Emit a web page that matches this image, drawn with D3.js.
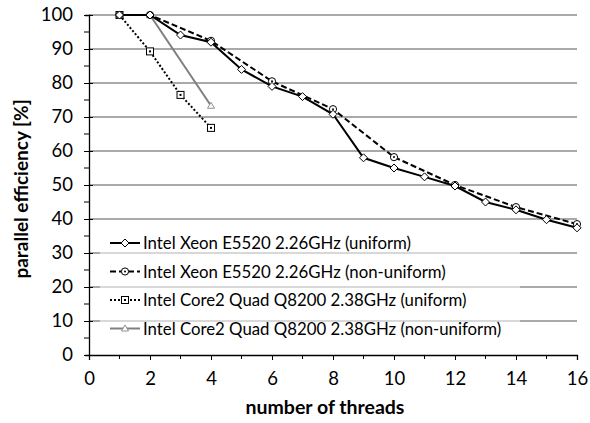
<head>
  <meta charset="utf-8">
  <script src="https://d3js.org/d3.v7.min.js"></script>
  <style>
    body { margin: 0; background: #fff; }
    text { font-family: Lato, "Open Sans", sans-serif; fill: #000; }
  </style>
</head>
<body>
<script>
// data
var xeonUniX = [1,2,3,4,5,6,7,8,9,10,11,12,13,14,15,16];
var xeonUniY = [100,100,94.1,92,84,79,76,70.8,58,55,52.4,49.7,45,42.7,39.8,37.4];
var xeonNonX = [1,2,4,6,8,10,12,14,16];
var xeonNonY = [100,100,92.4,80.5,72.3,58.2,50,43.5,38.5];
var coreUniX = [1,2,3,4];
var coreUniY = [100,89.3,76.5,66.8];
var coreNonX = [1,2,4];
var coreNonY = [100,100,73.3];
var names = ["Intel Xeon E5520 2.26GHz (uniform)",
  "Intel Xeon E5520 2.26GHz (non-uniform)",
  "Intel Core2 Quad Q8200 2.38GHz (uniform)",
  "Intel Core2 Quad Q8200 2.38GHz (non-uniform)"];
var xTicks = [0,2,4,6,8,10,12,14,16];
var yTicks = [0,10,20,30,40,50,60,70,80,90,100];

var width = 590, height = 423;
var mLeft = 89, mRight = 577, mTop = 15, mBottom = 355;

var x = d3.scaleLinear().domain([0,16]).range([mLeft, mRight]);
var y = d3.scaleLinear().domain([0,100]).range([mBottom, mTop]);

var svg = d3.select("body").append("svg")
  .attr("width", width).attr("height", height);

// grid
svg.append("g").selectAll("line")
  .data(yTicks.filter(function(d){ return d > 0; }))
  .enter().append("line")
  .attr("x1", mLeft).attr("x2", mRight)
  .attr("y1", function(d){ return y(d); }).attr("y2", function(d){ return y(d); })
  .attr("stroke", "#8c8c8c").attr("stroke-width", 1.3);

var series = [
  {x: xeonUniX, y: xeonUniY, color: "#000", dash: null, marker: "diamond"},
  {x: xeonNonX, y: xeonNonY, color: "#000", dash: "6,3", marker: "circle"},
  {x: coreUniX, y: coreUniY, color: "#000", dash: "2,2", marker: "square"},
  {x: coreNonX, y: coreNonY, color: "#808080", dash: null, marker: "triangle"}
];

var line = d3.line()
  .x(function(d){ return x(d[0]); })
  .y(function(d){ return y(d[1]); });

function drawMarker(g, type, cx, cy, color) {
  if (type == "diamond") {
    g.append("path").attr("d", "M"+cx+","+(cy-4)+"L"+(cx+4)+","+cy+"L"+cx+","+(cy+4)+"L"+(cx-4)+","+cy+"Z")
      .attr("fill", "#fff").attr("stroke", color).attr("stroke-width", 1);
  } else if (type == "circle") {
    g.append("circle").attr("cx", cx).attr("cy", cy).attr("r", 3.6)
      .attr("fill", "#fff").attr("stroke", color).attr("stroke-width", 1);
    g.append("circle").attr("cx", cx).attr("cy", cy).attr("r", 1).attr("fill", color);
  } else if (type == "square") {
    g.append("rect").attr("x", cx-3.5).attr("y", cy-3.5).attr("width", 7).attr("height", 7)
      .attr("fill", "#fff").attr("stroke", color).attr("stroke-width", 1);
    g.append("rect").attr("x", cx-1).attr("y", cy-1).attr("width", 2).attr("height", 2).attr("fill", color);
  } else {
    g.append("path").attr("d", "M"+cx+","+(cy-3.5)+"L"+(cx+3.5)+","+(cy+2.5)+"L"+(cx-3.5)+","+(cy+2.5)+"Z")
      .attr("fill", "#fff").attr("stroke", color).attr("stroke-width", 1);
  }
}

var plot = svg.append("g");
series.slice().reverse().forEach(function(s) {
  var pts = s.x.map(function(v, i){ return [v, s.y[i]]; });
  plot.append("path").datum(pts)
    .attr("d", line).attr("fill", "none")
    .attr("stroke", s.color).attr("stroke-width", 2)
    .attr("stroke-dasharray", s.dash);
  var mg = plot.append("g");
  pts.forEach(function(p){ drawMarker(mg, s.marker, x(p[0]), y(p[1]), s.color == "#000" ? "#000" : "#909090"); });
});

// legend
var lg = svg.append("g");
lg.append("rect").attr("x", 100).attr("y", 229).attr("width", 420).attr("height", 114)
  .attr("fill", "#fff").attr("opacity", 0.55);
series.forEach(function(s, i) {
  var ly = 243 + i * 28.5;
  lg.append("line").attr("x1", 110).attr("x2", 140).attr("y1", ly).attr("y2", ly)
    .attr("stroke", s.color).attr("stroke-width", 2).attr("stroke-dasharray", s.dash);
  drawMarker(lg, s.marker, 125, ly, s.color == "#000" ? "#000" : "#909090");
  lg.append("text").attr("x", 143).attr("y", ly + 6).attr("font-size", 16.8).text(names[i]);
});

// axes
var yAxis = svg.append("g").attr("transform", "translate(" + mLeft + ",0)")
  .call(d3.axisLeft(y).tickValues(yTicks).tickSize(4).tickPadding(12));
yAxis.select(".domain").attr("stroke", "#000").attr("stroke-width", 1.3);
yAxis.selectAll(".tick line").attr("x2", -5).attr("x1", 4);
yAxis.selectAll("text").attr("font-size", 18.5).attr("font-family", "Lato, 'Open Sans', sans-serif");
yAxis.append("g").selectAll("line").data(d3.range(5, 100, 10)).enter().append("line")
  .attr("x1", -5).attr("x2", 0)
  .attr("y1", function(d){ return y(d); }).attr("y2", function(d){ return y(d); })
  .attr("stroke", "#000");

var xAxis = svg.append("g").attr("transform", "translate(0," + mBottom + ")")
  .call(d3.axisBottom(x).tickValues(xTicks).tickSize(5).tickPadding(12));
xAxis.select(".domain").attr("stroke", "#000").attr("stroke-width", 1.3);
xAxis.selectAll("text").attr("font-size", 18.5).attr("font-family", "Lato, 'Open Sans', sans-serif");
xAxis.append("g").selectAll("line").data(d3.range(1, 16, 2)).enter().append("line")
  .attr("x1", function(d){ return x(d); }).attr("x2", function(d){ return x(d); })
  .attr("y1", 0).attr("y2", 4).attr("stroke", "#000");

svg.append("text").attr("x", 325).attr("y", 414)
  .attr("text-anchor", "middle").attr("font-size", 19.5).attr("font-weight", "bold")
  .text("number of threads");
svg.append("text").attr("transform", "translate(28,189) rotate(-90)")
  .attr("text-anchor", "middle").attr("font-size", 19).attr("font-weight", "bold")
  .text("parallel efficiency [%]");
</script>
</body>
